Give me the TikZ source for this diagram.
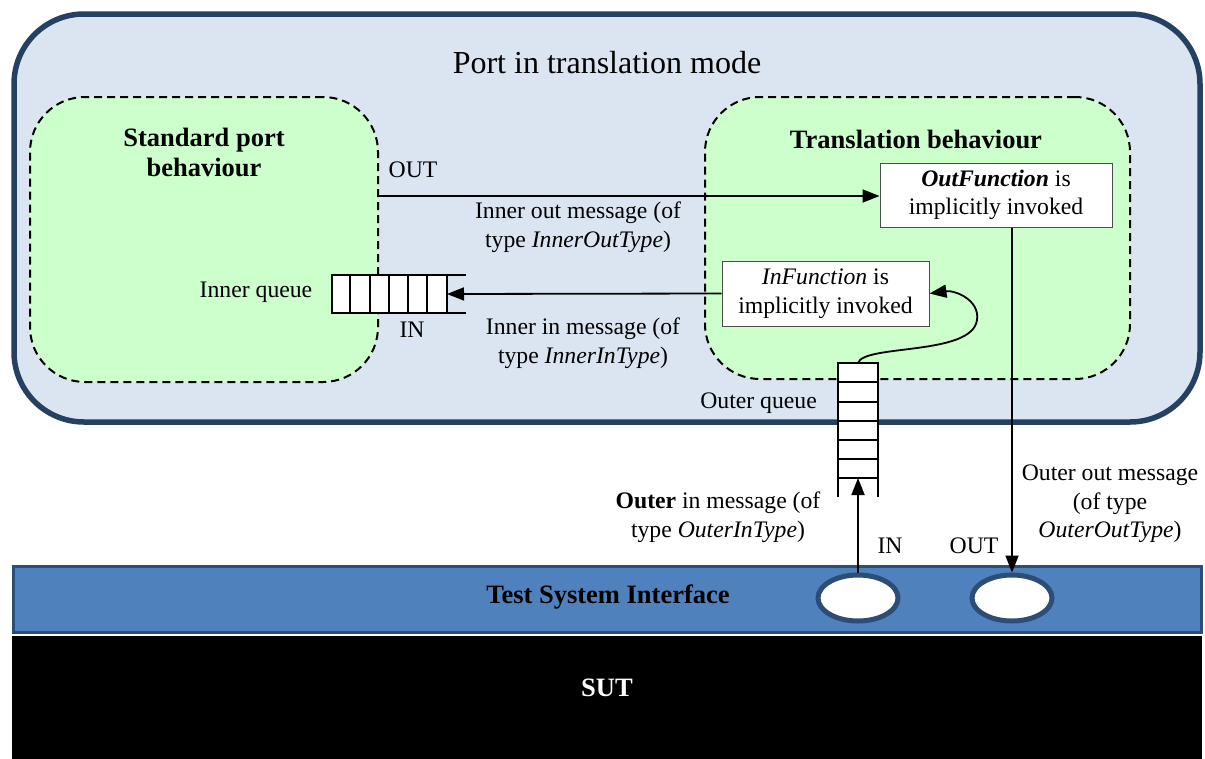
\documentclass[tikz,border=0pt]{standalone}
\usepackage{fontspec}
\setmainfont{Liberation Serif}
\usetikzlibrary{arrows.meta,shapes.geometric}
\definecolor{outerfill}{HTML}{DBE5F1}
\definecolor{navy}{HTML}{254061}
\definecolor{greenfill}{HTML}{CCFFCC}
\definecolor{tsiblue}{HTML}{4F81BD}
\definecolor{tsiborder}{HTML}{2C4D75}
\begin{document}
\begin{tikzpicture}[x=1pt,y=-1pt,
  txt/.style={font=\fontsize{23.7}{28.5}\selectfont, align=center, inner sep=0pt},
  bigtxt/.style={font=\fontsize{32}{38}\selectfont, inner sep=0pt},
  boldtxt/.style={font=\fontsize{26.5}{30}\selectfont\bfseries, align=center, inner sep=0pt},
  behbox/.style={draw=black, dashed, dash pattern=on 8pt off 5pt, line width=2pt, fill=greenfill, rounded corners=55pt, inner sep=0pt},
  fnbox/.style={draw=black!70, line width=1pt, fill=white, align=center, inner sep=0pt, font=\fontsize{23.7}{28.5}\selectfont},
  arr/.style={line width=1.8pt, -{Triangle[length=17pt,width=13pt]}},
  qline/.style={line width=2pt},
  port/.style={ellipse, draw=tsiborder, line width=5pt, fill=white, minimum width=80pt, minimum height=46pt}
]
\useasboundingbox (0,0) rectangle (1205,758);

% outer port box
\node[draw=navy, line width=5.5pt, fill=outerfill, rounded corners=70pt, minimum width=1186pt, minimum height=408pt, inner sep=0pt] (portbox) at (607,218) {};
\node[bigtxt] (porttitle) at (607,63) {Port in translation mode};

% behaviour boxes
\node[behbox, minimum width=348pt, minimum height=285pt] (stdbox) at (204,239.5) {};
\node[behbox, minimum width=425pt, minimum height=282pt] (trbox) at (917.5,238) {};
\node[boldtxt] (stdtitle) at (204,152) {Standard port\\behaviour};
\node[boldtxt] (trtitle) at (916,139) {Translation behaviour};

% function boxes
\node[fnbox, minimum width=232pt, minimum height=64pt] (outfn) at (996,195) {\textbf{\textit{OutFunction}} is\\implicitly invoked};
\node[fnbox, minimum width=207pt, minimum height=65pt] (infn) at (825.5,293.5) {\textit{InFunction} is\\implicitly invoked};

% inner queue
\draw[qline, fill=white] (332,275) rectangle (447,313);
\foreach \xx in {350,370,389,408,427} \draw[qline] (\xx,275) -- (\xx,313);
\draw[qline] (447,275) -- (466,275);
\draw[qline] (447,313) -- (466,313);
\coordinate (iqin) at (447,294);
\node[txt] (iqlabel) at (256,292) {Inner queue};
\node[txt] (iqin-lbl) at (412,330) {IN};

% outer queue
\draw[qline, fill=white] (838,363) rectangle (878,478);
\foreach \yy in {382,402,421,440,459} \draw[qline] (838,\yy) -- (878,\yy);
\draw[qline] (838,478) -- (838,497);
\draw[qline] (878,478) -- (878,497);
\coordinate (oqtop) at (858,363);
\coordinate (oqin) at (858,478);
\node[txt, anchor=east] (oqlabel) at (817,403) {Outer queue};

% std OUT
\coordinate (stdout) at (378,196);
\node[txt] (outlbl) at (413,170) {OUT};

% TSI and SUT
\node[draw=tsiborder, line width=3pt, fill=tsiblue, minimum width=1188pt, minimum height=66pt, inner sep=0pt] (tsi) at (607,599.5) {};
\node[boldtxt] (tsilbl) at (608,597) {Test System Interface};
\node[fill=black, minimum width=1190pt, minimum height=123pt, inner sep=0pt] (sut) at (607,697) {};
\node[boldtxt, text=white] (sutlbl) at (607,688) {SUT};
\node[port] (inport) at (858,598) {};
\node[port] (outport) at (1012,598) {};

% connectors
\draw[arr] (stdout) -- (outfn.west |- stdout);
\draw[arr] (infn.west) -- (iqin);
\draw[arr] (oqtop) .. controls (864,344) and (972,356) .. (977,320) .. controls (980,300) and (955,290) .. (infn.east);
\draw[arr] (inport.north) -- (oqin);
\draw[arr] (outfn.south -| outport.north) -- (outport.north);

% message labels
\node[txt] (iomsg) at (578,227) {Inner out message (of\\type \textit{InnerOutType})};
\node[txt] (iimsg) at (583,343) {Inner in message (of\\type \textit{InnerInType})};
\node[txt] (oimsg) at (718,517) {\textbf{Outer} in message (of\\type \textit{OuterInType})};
\node[txt] (oomsg) at (1110,504) {Outer out message\\(of type\\\textit{OuterOutType})};
\node[txt] (inlbl) at (890,546) {IN};
\node[txt] (outlbl2) at (974,546) {OUT};
\end{tikzpicture}
\end{document}
